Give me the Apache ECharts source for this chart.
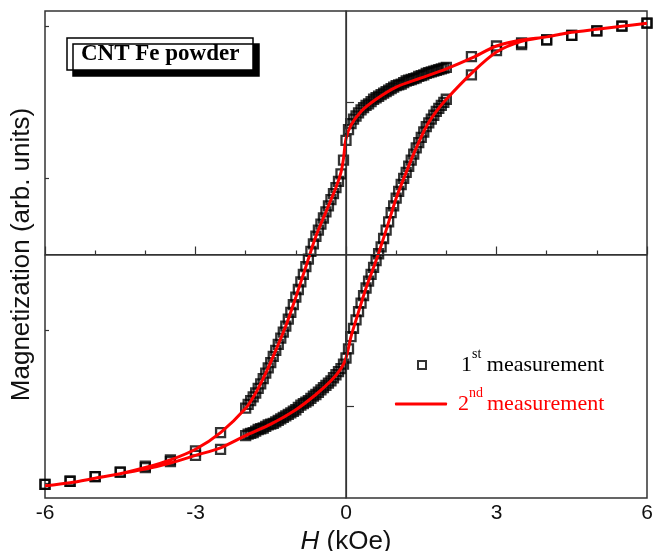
<!DOCTYPE html>
<html><head><meta charset="utf-8">
<script src="https://cdn.jsdelivr.net/npm/echarts@6/dist/echarts.min.js"></script>
<style>html,body{margin:0;padding:0;background:#fff}#c{width:654px;height:551px}</style>
</head><body><div id="c"></div>
<script>
// Field sweep of the dense part of the 1st measurement (kOe)
const fieldDense = [2.00,1.95,1.90,1.85,1.80,1.75,1.70,1.65,1.60,1.55,1.50,1.45,1.40,1.35,1.30,1.25,1.20,1.15,1.10,1.05,1.00,0.95,0.90,0.85,0.80,0.75,0.70,0.65,0.60,0.55,0.50,0.45,0.40,0.35,0.30,0.25,0.20,0.15,0.10,0.05,0.00,-0.05,-0.10,-0.15,-0.20,-0.25,-0.30,-0.35,-0.40,-0.45,-0.50,-0.55,-0.60,-0.65,-0.70,-0.75,-0.80,-0.85,-0.90,-0.95,-1.00,-1.05,-1.10,-1.15,-1.20,-1.25,-1.30,-1.35,-1.40,-1.45,-1.50,-1.55,-1.60,-1.65,-1.70,-1.75,-1.80,-1.85,-1.90,-1.95,-2.00];
// Descending-field (upper) branch, 1st measurement
const mUpper = [1.23,1.225,1.22,1.215,1.21,1.205,1.20,1.195,1.19,1.18,1.175,1.17,1.16,1.155,1.15,1.145,1.14,1.13,1.12,1.115,1.11,1.10,1.09,1.08,1.07,1.06,1.05,1.04,1.03,1.02,1.005,0.99,0.98,0.965,0.95,0.93,0.91,0.89,0.86,0.82,0.75,0.62,0.53,0.48,0.44,0.40,0.36,0.32,0.28,0.24,0.20,0.16,0.12,0.07,0.02,-0.03,-0.08,-0.13,-0.18,-0.23,-0.28,-0.33,-0.38,-0.425,-0.47,-0.51,-0.55,-0.59,-0.63,-0.67,-0.71,-0.745,-0.78,-0.815,-0.85,-0.88,-0.91,-0.935,-0.96,-0.985,-1.01];
// Ascending-field (lower) branch, 1st measurement (same field list)
const mLower = [1.02,1.00,0.98,0.96,0.94,0.915,0.89,0.865,0.84,0.805,0.77,0.735,0.70,0.66,0.62,0.58,0.54,0.50,0.46,0.415,0.37,0.32,0.275,0.215,0.16,0.105,0.05,0.005,-0.04,-0.085,-0.13,-0.175,-0.22,-0.27,-0.32,-0.375,-0.43,-0.485,-0.54,-0.62,-0.68,-0.72,-0.75,-0.77,-0.79,-0.81,-0.83,-0.845,-0.86,-0.875,-0.89,-0.905,-0.92,-0.93,-0.945,-0.96,-0.97,-0.98,-0.99,-1.005,-1.02,-1.03,-1.04,-1.05,-1.06,-1.07,-1.08,-1.09,-1.10,-1.11,-1.115,-1.12,-1.13,-1.14,-1.145,-1.15,-1.16,-1.17,-1.175,-1.18,-1.19];
// Sparse high-field points, 1st measurement
const fieldTail = [6,5.5,5,4.5,4,3.5,3,2.5,-2.5,-3,-3.5,-4,-4.5,-5,-5.5,-6];
const mTailUpper = [1.52,1.50,1.47,1.44,1.41,1.39,1.37,1.30,-1.17,-1.29,-1.35,-1.39,-1.43,-1.46,-1.49,-1.51];
const mTailLower = [1.52,1.50,1.47,1.44,1.41,1.38,1.34,1.18,-1.28,-1.32,-1.36,-1.40,-1.43,-1.46,-1.49,-1.51];
// 2nd measurement (red line), upper then lower branch
const fieldRedUp = [6,5.5,5,4.5,4,3.5,3,2.5,2,1.5,1,0.6,0.3,0.1,0,-0.05,-0.1,-0.2,-0.4,-0.6,-0.8,-1,-1.2,-1.4,-1.6,-1.8,-2,-2.5,-3,-3.5,-4,-4.5,-5,-5.5,-6];
const mRedUp = [1.52,1.50,1.48,1.46,1.43,1.41,1.37,1.29,1.22,1.16,1.10,1.02,0.94,0.85,0.76,0.63,0.54,0.44,0.28,0.12,-0.08,-0.28,-0.47,-0.63,-0.78,-0.91,-1.01,-1.17,-1.28,-1.35,-1.40,-1.44,-1.47,-1.50,-1.52];
const fieldRedLow = [-6,-5.5,-5,-4.5,-4,-3.5,-3,-2.5,-2,-1.5,-1,-0.6,-0.3,-0.1,0,0.1,0.2,0.4,0.6,0.8,1,1.2,1.4,1.6,1.8,2,2.5,3,3.5,4,4.5,5,5.5,6];
const mRedLow = [-1.52,-1.50,-1.47,-1.44,-1.41,-1.37,-1.32,-1.27,-1.19,-1.115,-1.02,-0.92,-0.83,-0.75,-0.68,-0.54,-0.43,-0.22,-0.04,0.16,0.37,0.54,0.70,0.84,0.94,1.02,1.19,1.33,1.40,1.43,1.46,1.48,1.50,1.52];
const yMajorTicks = [-1, 1];
const yMinorTicks = [-1.5, -0.5, 0.5, 1.5];

const pair = (xs, ys) => xs.map((x, i) => [x, ys[i]]);
const firstData = [].concat(pair(fieldDense, mUpper), pair(fieldDense, mLower), pair(fieldTail, mTailUpper), pair(fieldTail, mTailLower));
const secondData = pair(fieldRedUp, mRedUp).concat(pair(fieldRedLow, mRedLow));

const AX = '#333';
const chart = echarts.init(document.getElementById('c'), null, {renderer: 'canvas'});
chart.setOption({
  animation: false,
  title: {
    text: 'CNT Fe powder', left: 67, top: 38, padding: [5, 14, 4, 14],
    backgroundColor: '#fff', borderColor: '#000', borderWidth: 1.5,
    shadowColor: '#000', shadowOffsetX: 6, shadowOffsetY: 6, shadowBlur: 0,
    textStyle: {fontFamily: 'Liberation Serif', fontWeight: 'bold', fontSize: 23, color: '#000'}
  },
  grid: {left: 45, right: 7, top: 11, bottom: 53, show: true, borderColor: AX, borderWidth: 1.5,
    backgroundColor: 'transparent', containLabel: false, outerBoundsMode: 'none'},
  xAxis: {
    type: 'value', min: -6, max: 6, interval: 3,
    axisLine: {show: true, lineStyle: {color: AX, width: 1.5}},
    axisTick: {inside: true, length: 8, lineStyle: {color: AX, width: 1.2}},
    minorTick: {show: true, splitNumber: 3, length: 4, lineStyle: {color: AX, width: 1.2}},
    splitLine: {show: false},
    axisLabel: {fontFamily: 'Liberation Sans', fontSize: 21, color: '#111', margin: 5},
    name: '{i|H} (kOe)', nameLocation: 'middle', nameGap: 22,
    nameTextStyle: {fontFamily: 'Liberation Sans', fontSize: 26, color: '#111',
      rich: {i: {fontFamily: 'Liberation Sans', fontStyle: 'italic', fontSize: 26, color: '#111'}}}
  },
  yAxis: [{
    type: 'value', min: -1.6, max: 1.6,
    axisLine: {show: true, lineStyle: {color: AX, width: 1.5}},
    axisTick: {inside: true, length: 8, customValues: yMajorTicks, lineStyle: {color: AX, width: 1.2}},
    axisLabel: {show: false}, splitLine: {show: false},
    name: 'Magnetization (arb. units)', nameLocation: 'middle', nameGap: 10,
    nameTextStyle: {fontFamily: 'Liberation Sans', fontSize: 26, color: '#111'}
  }, {
    type: 'value', min: -1.6, max: 1.6, position: 'left',
    axisLine: {show: false},
    axisTick: {show: true, inside: true, length: 4, customValues: yMinorTicks, lineStyle: {color: AX, width: 1.2}},
    axisLabel: {show: false}, splitLine: {show: false}
  }],
  legend: [{
    data: [{name: '1st', icon: 'rect'}], left: 417, top: 347, padding: 0, selectedMode: false,
    itemWidth: 8, itemHeight: 8,
    itemStyle: {color: '#fff', borderColor: '#000', borderWidth: 2},
    formatter: () => '{a|1}{s|st}{b| measurement}',
    textStyle: {color: '#000', fontFamily: 'Liberation Serif', fontSize: 22,
      rich: {
        a: {color: '#000', fontFamily: 'Liberation Serif', fontSize: 22, lineHeight: 36, padding: [0, 0, 0, 30]},
        s: {color: '#000', fontFamily: 'Liberation Serif', fontSize: 14, verticalAlign: 'top'},
        b: {color: '#000', fontFamily: 'Liberation Serif', fontSize: 22, lineHeight: 36}
      }}
  }, {
    data: [{name: '2nd', icon: 'roundRect'}], left: 395, top: 386, padding: 0, selectedMode: false,
    itemWidth: 52, itemHeight: 3,
    itemStyle: {color: '#ff0000', borderWidth: 0},
    formatter: () => '{a|2}{s|nd}{b|measurement}',
    textStyle: {color: '#ff0000', fontFamily: 'Liberation Serif', fontSize: 22,
      rich: {
        a: {color: '#ff0000', fontFamily: 'Liberation Serif', fontSize: 22, lineHeight: 36, padding: [0, 0, 0, 6]},
        s: {color: '#ff0000', fontFamily: 'Liberation Serif', fontSize: 14, verticalAlign: 'top'},
        b: {color: '#ff0000', fontFamily: 'Liberation Serif', fontSize: 22, lineHeight: 36, padding: [0, 0, 0, 4]}
      }}
  }],
  series: [{
    name: '1st', type: 'scatter', symbol: 'rect', symbolSize: 9, z: 2,
    itemStyle: {color: 'rgba(0,0,0,0)', borderColor: '#000', borderWidth: 2.3},
    data: firstData,
    markLine: {
      silent: true, symbol: ['none', 'none'], label: {show: false}, animation: false,
      lineStyle: {color: AX, width: 1.2, type: 'solid'},
      data: [{xAxis: 0}, {yAxis: 0}]
    }
  }, {
    name: '2nd', type: 'line', data: secondData, smooth: 0.3, symbol: 'none', showSymbol: false, z: 3,
    lineStyle: {color: '#ff0000', width: 3}, itemStyle: {color: '#ff0000'}
  }]
});
</script></body></html>
